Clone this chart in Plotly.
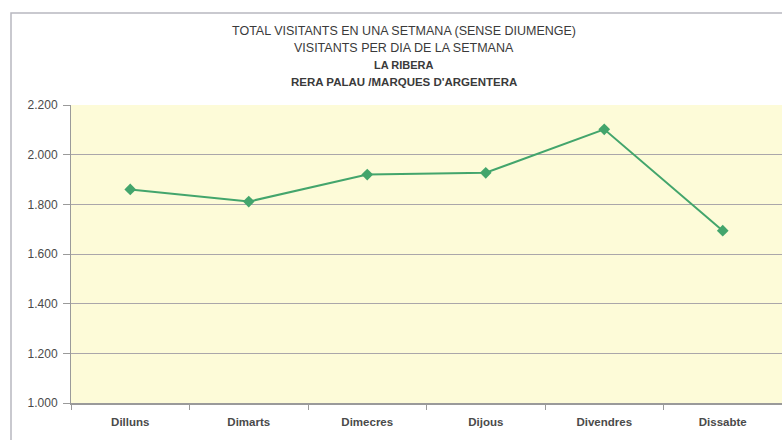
import plotly.graph_objects as go

days = ["Dilluns", "Dimarts", "Dimecres", "Dijous", "Divendres", "Dissabte"]
visitants = [1860, 1811, 1920, 1927, 2102, 1694]
y_ticks = [1000, 1200, 1400, 1600, 1800, 2000, 2200]
title_lines = [
    "TOTAL VISITANTS EN UNA SETMANA (SENSE DIUMENGE)",
    "VISITANTS PER DIA DE LA SETMANA",
    "<b>LA RIBERA</b>",
    "<b>RERA PALAU /MARQUES D'ARGENTERA</b>",
]

W, H = 782, 440
L, R, T, B = 71, 0, 105, 37
pw, ph = W - L - R, H - T - B

def px(x):
    return (x - L) / pw

def py(y):
    return (H - B - y) / ph

fig = go.Figure()
fig.add_trace(go.Scatter(
    x=days, y=visitants, mode="lines+markers",
    line=dict(color="#43a56c", width=2),
    marker=dict(symbol="diamond", size=9, color="#43a56c"),
    showlegend=False, hoverinfo="x+y",
))

annotations = []
sizes = [12.5, 12.5, 11, 11.5]
for i, t in enumerate(title_lines):
    annotations.append(dict(
        text=t, xref="paper", yref="paper", x=px(404), y=py(31 + i * 17),
        xanchor="center", yanchor="middle", showarrow=False,
        font=dict(family="Liberation Sans, Arial", size=sizes[i], color="#3a3a3a"),
    ))

fig.update_layout(
    width=W, height=H,
    margin=dict(l=L, r=R, t=T, b=B),
    paper_bgcolor="white",
    plot_bgcolor="#fdfbd8",
    separators=",.",
    font=dict(family="Liberation Sans, Arial", size=12, color="#444444"),
    annotations=annotations,
    shapes=[dict(type="rect", xref="paper", yref="paper",
                 x0=px(11), x1=px(800), y0=py(460), y1=py(13),
                 line=dict(color="#b8b8c0", width=1.5), layer="below")],
    xaxis=dict(
        type="category", range=[-0.5, 5.5], showgrid=False,
        showline=True, linecolor="#9a9a9a", linewidth=1.5,
        ticks="outside", tickson="boundaries", ticklen=5, tickcolor="#9a9a9a",
        ticklabelstandoff=7,
        tickfont=dict(size=11.5, color="#4a4a4a", weight="bold"),
    ),
    yaxis=dict(
        range=[1000, 2200], tickvals=y_ticks, tickformat=",.0f",
        showgrid=True, gridcolor="#aaa6aa", gridwidth=1.1,
        showline=True, linecolor="#9a9a9a", linewidth=1,
        ticks="outside", ticklen=7, tickcolor="#9a9a9a",
        ticklabelstandoff=3,
        tickfont=dict(size=12, color="#4a4a4a"), zeroline=False,
    ),
)

fig.write_html("out.html", config={"displayModeBar": False},
               post_script="document.body.style.margin='0';")
